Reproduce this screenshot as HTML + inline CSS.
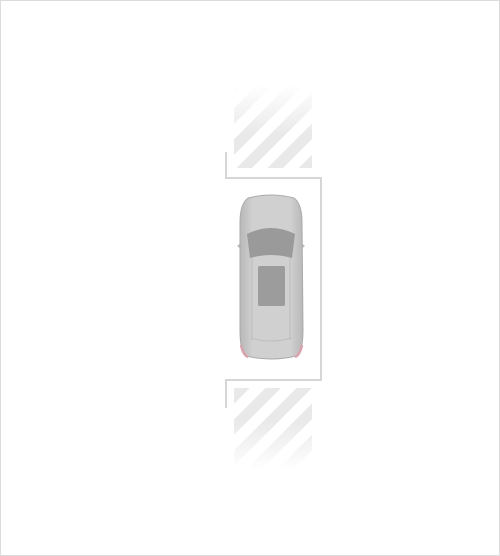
<!DOCTYPE html>
<html><head><meta charset="utf-8"><style>
html,body{margin:0;padding:0;background:#fff;}
svg{display:block}
</style></head><body>
<svg width="500" height="556" viewBox="0 0 500 556" xmlns="http://www.w3.org/2000/svg">
<defs>
<pattern id="hatch" patternUnits="userSpaceOnUse" width="22" height="22" patternTransform="rotate(45)">
<rect x="0" y="0" width="11" height="22" fill="#e9e9e9"/>
</pattern>
<linearGradient id="fadeTop" x1="0" y1="0" x2="0" y2="1">
<stop offset="0" stop-color="#fff" stop-opacity="1"/>
<stop offset="0.6" stop-color="#fff" stop-opacity="0"/>
</linearGradient>
<linearGradient id="fadeBot" x1="0" y1="0" x2="0" y2="1">
<stop offset="0.4" stop-color="#fff" stop-opacity="0"/>
<stop offset="1" stop-color="#fff" stop-opacity="1"/>
</linearGradient>
<linearGradient id="body" x1="0" y1="0" x2="1" y2="0">
<stop offset="0" stop-color="#b8b8b8"/>
<stop offset="0.2" stop-color="#d0d0d0"/>
<stop offset="0.8" stop-color="#d0d0d0"/>
<stop offset="1" stop-color="#b8b8b8"/>
</linearGradient>
</defs>
<rect x="0.5" y="0.5" width="499" height="555" fill="#fff" stroke="#dcdcdc"/>
<g>
<rect x="234" y="85" width="78" height="83" fill="url(#hatch)"/>
<rect x="234" y="85" width="78" height="83" fill="url(#fadeTop)"/>
</g>
<g>
<rect x="234" y="388" width="78" height="82" fill="url(#hatch)"/>
<rect x="234" y="388" width="78" height="82" fill="url(#fadeBot)"/>
</g>
<path d="M226 152 V178 H321 V380 H226 V408" fill="none" stroke="#d6d6d6" stroke-width="2"/>
<g>
<path d="M237 246 l5 -4 v8 z M305 246 l-5 -4 v8 z" fill="#bdbdbd"/>
<path d="M248 198 Q271 192 294 198 Q302 204 302 222 L303 330 Q303 352 296 356 Q271 362 246 356 Q240 352 240 330 L240 222 Q240 204 248 198 Z" fill="url(#body)" stroke="#aaa" stroke-width="1"/>
<path d="M247 234 Q271 222 295 234 L292 258 Q271 252 250 258 Z" fill="#9a9a9a"/>
<rect x="258" y="266" width="27" height="40" rx="2" fill="#9c9c9c"/>
<path d="M252 258 L252 340 M290 258 L290 340" stroke="#bcbcbc" stroke-width="1"/>
<path d="M251 338 Q271 344 291 338" stroke="#bdbdbd" fill="none"/>
<path d="M241 345 Q243 355 248 357" stroke="#d9a3ad" stroke-width="2.5" fill="none"/>
<path d="M302 345 Q300 355 295 357" stroke="#d9a3ad" stroke-width="2.5" fill="none"/>
</g>
</svg>
</body></html>
